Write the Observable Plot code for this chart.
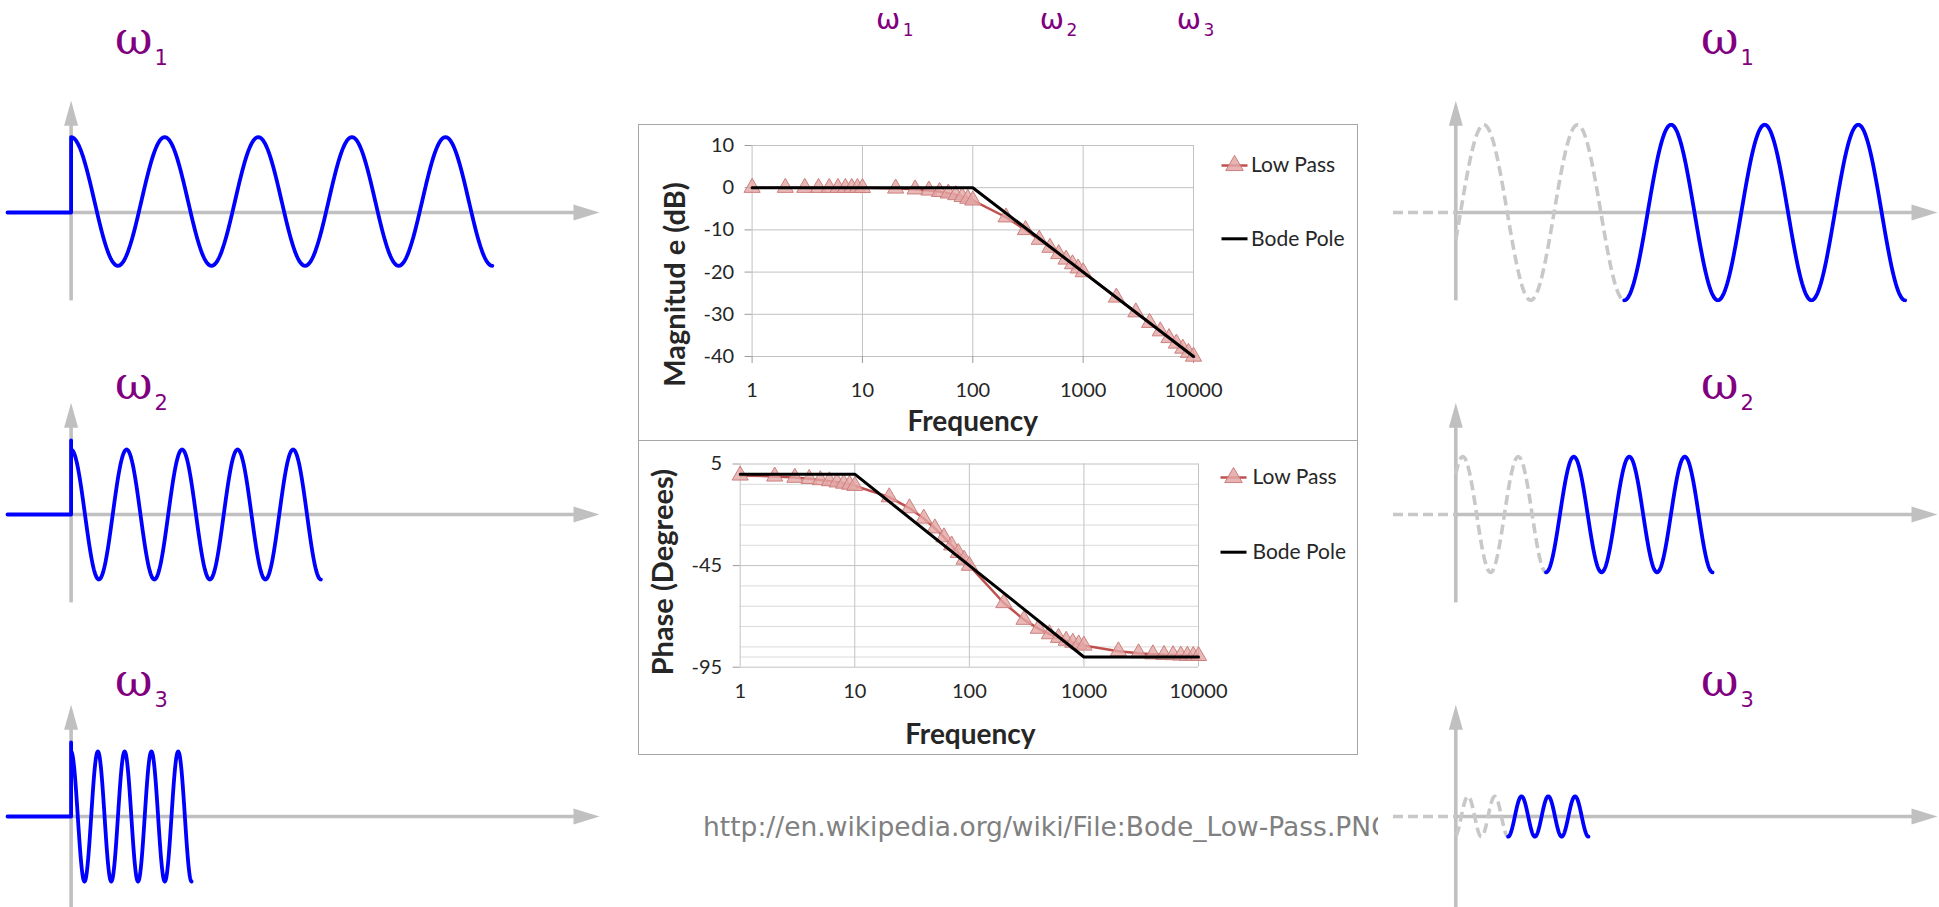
<!DOCTYPE html>
<html>
<head>
<meta charset="utf-8">
<script src="https://cdn.jsdelivr.net/npm/d3@7"></script>
<script src="https://cdn.jsdelivr.net/npm/@observablehq/plot@0.6"></script>
<style>
  html, body { margin: 0; padding: 0; background: #fff; }
  #root { position: relative; width: 1939px; height: 907px; overflow: hidden; background: #fff; }
  #root > * { position: absolute; }
  .box { border: 1.5px solid #a6a6a6; box-sizing: border-box; pointer-events: none; }
  #caption { font-family: "DejaVu Sans", sans-serif; font-size: 26.5px; color: #808080; white-space: nowrap; overflow: hidden; line-height: normal; }
</style>
</head>
<body>
<div id="root"></div>
<script>
// ---------------- DATA ----------------
// Bode plot (first-order low pass, corner at 100)
const frequency = [1, 2, 3, 4, 5, 6, 7, 8, 9, 10, 20, 30, 40, 50, 60, 70, 80, 90, 100,
  200, 300, 400, 500, 600, 700, 800, 900, 1000, 2000, 3000, 4000, 5000, 6000, 7000, 8000, 9000, 10000];
const lowPassMagnitude = [0, 0, 0, -0.01, -0.01, -0.02, -0.02, -0.03, -0.04, -0.04, -0.17, -0.37, -0.64, -0.97, -1.34, -1.73, -2.15, -2.58, -3.0,
  -7.0, -10.0, -12.3, -14.2, -15.7, -17.0, -18.1, -19.1, -20.0, -26.0, -29.5, -32.0, -34.0, -35.6, -36.9, -38.1, -39.1, -40.0];
const lowPassPhase = [-0.6, -1.1, -1.7, -2.3, -2.9, -3.4, -4.0, -4.6, -5.1, -5.7, -11.3, -16.7, -21.8, -26.6, -31.0, -35.0, -38.7, -42.0, -45.0,
  -63.4, -71.6, -76.0, -78.7, -80.5, -81.9, -82.9, -83.7, -84.3, -87.1, -88.1, -88.6, -88.9, -89.0, -89.2, -89.3, -89.4, -89.4];
const bodePoleMagFreq = [1, 100, 10000];
const bodePoleMagnitude = [0, 0, -40];
const bodePolePhaseFreq = [1, 10, 1000, 10000];
const bodePolePhase = [0, 0, -90, -90];
const frequencyTicks = [1, 10, 100, 1000, 10000];
const magnitudeTicks = [10, 0, -10, -20, -30, -40];
const phaseTicks = [5, -45, -95];
const phaseMinorGrid = [-5, -15, -25, -35, -55, -65, -75, -85, -90];
const seriesNames = ["Low Pass", "Bode Pole"];
const omegaSubscripts = ["1", "2", "3"];
const omegaMarkFreq = [22, 670, 11700];
const magnitudeTitle = "Magnitud e (dB)";
const phaseTitle = "Phase (Degrees)";
const frequencyTitle = "Frequency";
const sourceCaption = "http://en.wikipedia.org/wiki/File:Bode_Low-Pass.PNG";

// Test signals: time in units of the ω1 period, amplitude in units of the input amplitude
const inputPeriod = [1, 0.593, 0.286];
const inputAmplitude = [0.99, 1, 1];
const inputOffset = [0.17, 0, 0];
const inputCycles = [4.5, 4.5, 4.5];
const stepHeight = [1.15, 1.14, 1.14];
const outputAmplitude = [1.35, 0.89, 0.31];
const outputLagCycles = [0.30, 0.126, 0.455];
const outputSettledFrom = [1.5, 1.5, 1.5];   // cycles after first output peak
const outputEndCycles = [4.5, 4.5, 4.5];

// ---------------- STYLE / LAYOUT ----------------
const GRID = "#c2c2c2", GRID_MINOR = "#dadada", TICK = "#9a9a9a", INK = "#262626";
const RED = "#c0504d", PINK = "#e3a7a6", PINK_EDGE = "#cc7f7d";
const PURPLE = "#800080", BLUE = "#0000ff", AXIS_GRAY = "#c0c0c0", DASH_GRAY = "#c8c8c8";
const PX_T = 93.6, PX_A = 65;          // pixels per time unit / amplitude unit
const rowAxisY = [211.7, 514, 815.7];  // page y of each time axis
const labelLift = [2.44, 1.78, 1.86];  // ω label baseline above axis (amplitude units)
const vAxisBottom = [-1.36, -1.36, -1.55];
const V_TIP = 1.72;

const root = document.getElementById("root");
function place(node, left, top) {
  node.style.left = left + "px";
  node.style.top = top + "px";
  root.appendChild(node);
  return node;
}

const lineSwatch = (half) => ({draw(ctx) { ctx.moveTo(-half, 0); ctx.lineTo(half, 0); }});
const arrowRight = {draw(ctx) { ctx.moveTo(0, 0); ctx.lineTo(-26, -8); ctx.lineTo(-26, 8); ctx.closePath(); }};
const arrowUp = {draw(ctx) { ctx.moveTo(0, 0); ctx.lineTo(-7, 25); ctx.lineTo(7, 25); ctx.closePath(); }};

function legendMarks(dxMarker, dxText, dyLow, dyBode) {
  return [
    Plot.dot([0], {frameAnchor: "top-right", dx: dxMarker, dy: dyLow, symbol: lineSwatch(13), r: 1, fill: "none", stroke: RED, strokeWidth: 2.5}),
    Plot.dot([0], {frameAnchor: "top-right", dx: dxMarker, dy: dyLow, symbol: "triangle", r: 6.5, fill: PINK, fillOpacity: 0.85, stroke: PINK_EDGE, strokeWidth: 1}),
    Plot.dot([0], {frameAnchor: "top-right", dx: dxMarker, dy: dyBode, symbol: lineSwatch(13), r: 1, fill: "none", stroke: "#000", strokeWidth: 3}),
    Plot.text([seriesNames[0]], {frameAnchor: "top-right", dx: dxText, dy: dyLow, text: d => d, textAnchor: "start", lineAnchor: "middle", fontSize: 21, fill: INK}),
    Plot.text([seriesNames[1]], {frameAnchor: "top-right", dx: dxText, dy: dyBode, text: d => d, textAnchor: "start", lineAnchor: "middle", fontSize: 21, fill: INK})
  ];
}

const bodeStyle = {background: "transparent", fontFamily: "Lato, 'Open Sans', sans-serif", fontSize: "20px", color: INK};
const titleFont = {fontWeight: "bold", fill: INK, textAnchor: "middle", lineAnchor: "middle"};

// ---------------- MAGNITUDE PLOT ----------------
const magData = frequency.map((f, i) => ({f, v: lowPassMagnitude[i]}));
const magBode = bodePoleMagFreq.map((f, i) => ({f, v: bodePoleMagnitude[i]}));
const omegaTop = omegaMarkFreq.map((f, i) => ({f, s: omegaSubscripts[i]}));

const magPlot = Plot.plot({
  width: 720, height: 440,
  marginTop: 145, marginBottom: 84, marginLeft: 113.6, marginRight: 165,
  x: {type: "log", domain: [1, 10000]},
  y: {domain: [-40, 10]},
  style: bodeStyle,
  marks: [
    Plot.gridY({ticks: magnitudeTicks, stroke: GRID, strokeOpacity: 1}),
    Plot.gridX({ticks: frequencyTicks, stroke: GRID, strokeOpacity: 1}),
    Plot.axisY({ticks: magnitudeTicks, tickSize: 7, tickPadding: 11, tickFormat: d => String(d), label: null, stroke: TICK, fill: INK, fontSize: 20}),
    Plot.axisX({ticks: frequencyTicks, tickSize: 7, tickPadding: 19, tickFormat: d => String(d), label: null, stroke: TICK, fill: INK, fontSize: 20}),
    Plot.line(magData, {x: "f", y: "v", stroke: RED, strokeWidth: 2.5}),
    Plot.dot(magData, {x: "f", y: "v", symbol: "triangle", r: 6, fill: PINK, fillOpacity: 0.8, stroke: PINK_EDGE, strokeWidth: 1}),
    Plot.line(magBode, {x: "f", y: "v", stroke: "#000", strokeWidth: 3}),
    Plot.text([frequencyTitle], {frameAnchor: "bottom", dy: 65.7, text: d => d, fontSize: 28, ...titleFont}),
    Plot.text([magnitudeTitle], {frameAnchor: "left", dx: -76.6, dy: 33.5, rotate: -90, text: d => d, fontSize: 29, ...titleFont}),
    ...legendMarks(41, 57.6, 20, 93.3),
    Plot.text(omegaTop, {x: "f", frameAnchor: "top", dy: -116.5, text: () => "ω", textAnchor: "end", lineAnchor: "bottom", fontFamily: "DejaVu Sans", fontSize: 29, fill: PURPLE}),
    Plot.text(omegaTop, {x: "f", frameAnchor: "top", dx: 2.5, dy: -109.8, text: "s", textAnchor: "start", lineAnchor: "bottom", fontFamily: "DejaVu Sans", fontSize: 17, fill: PURPLE})
  ]
});
place(magPlot, 638, 0);

// ---------------- PHASE PLOT ----------------
const phData = frequency.map((f, i) => ({f, v: lowPassPhase[i]}));
const phBode = bodePolePhaseFreq.map((f, i) => ({f, v: bodePolePhase[i]}));
const phasePlot = Plot.plot({
  width: 720, height: 314,
  marginTop: 23.5, marginBottom: 87.3, marginLeft: 101.7, marginRight: 160,
  x: {type: "log", domain: [1, 10000]},
  y: {domain: [-95, 5]},
  style: bodeStyle,
  marks: [
    Plot.gridY({ticks: phaseMinorGrid, stroke: GRID_MINOR, strokeOpacity: 1}),
    Plot.gridY({ticks: phaseTicks, stroke: GRID, strokeOpacity: 1}),
    Plot.gridX({ticks: frequencyTicks, stroke: GRID, strokeOpacity: 1}),
    Plot.axisY({ticks: phaseTicks, tickSize: 7, tickPadding: 11, tickFormat: d => String(d), label: null, stroke: TICK, fill: INK, fontSize: 20}),
    Plot.axisX({ticks: frequencyTicks, tickSize: 0, tickPadding: 16.5, tickFormat: d => String(d), label: null, stroke: TICK, fill: INK, fontSize: 20}),
    Plot.line(phData, {x: "f", y: "v", stroke: RED, strokeWidth: 2.5}),
    Plot.dot(phData, {x: "f", y: "v", symbol: "triangle", r: 6, fill: PINK, fillOpacity: 0.8, stroke: PINK_EDGE, strokeWidth: 1}),
    Plot.line(phBode, {x: "f", y: "v", stroke: "#000", strokeWidth: 3}),
    Plot.text([frequencyTitle], {frameAnchor: "bottom", dx: 1, dy: 68.3, text: d => d, fontSize: 28, ...titleFont}),
    Plot.text([phaseTitle], {frameAnchor: "left", dx: -76.7, dy: 6.6, rotate: -90, text: d => d, fontSize: 29, ...titleFont}),
    ...legendMarks(35, 54, 13.5, 88.2)
  ]
});
place(phasePlot, 638, 440);

// boxes around the two charts
const b1 = document.createElement("div"); b1.className = "box"; b1.style.width = "720px"; b1.style.height = "317px"; place(b1, 638, 124);
const b2 = document.createElement("div"); b2.className = "box"; b2.style.width = "720px"; b2.style.height = "315px"; place(b2, 638, 439.5);

// caption
const cap = document.createElement("div");
cap.id = "caption"; cap.textContent = sourceCaption; cap.style.width = "675px";
place(cap, 703, 810.5);

// ---------------- SIGNAL PANELS ----------------
function cosSamples(t0, t1, period, amp, offset, peakT) {
  const n = Math.max(2, Math.ceil((t1 - t0) / period * 90));
  return d3.range(n + 1).map(i => {
    const t = t0 + (t1 - t0) * i / n;
    return {t, v: offset + amp * Math.cos(2 * Math.PI * (t - peakT) / period)};
  });
}

function panel(side, row) {
  const geo = side === "left"
    ? {left: 0, width: 610, axisX: 70.6, tip: 599, pre: 7, labelEnd: 152}
    : {left: 1380, width: 559, axisX: 1455.3, tip: 1937, pre: 1392.5, labelEnd: 1738};
  const height = 300, axisFromTop = 200;
  const top = rowAxisY[row] - axisFromTop;
  const tOf = px => (px - geo.axisX) / PX_T;
  const hTip = tOf(geo.tip), tPre = tOf(geo.pre);
  const marks = [
    Plot.ruleY([0], {x1: () => 0, x2: () => hTip - 14 / PX_T, stroke: AXIS_GRAY, strokeWidth: 3.6}),
    Plot.dot([{t: hTip, v: 0}], {x: "t", y: "v", symbol: arrowRight, r: 1, fill: AXIS_GRAY, stroke: "none"}),
    Plot.ruleX([0], {y1: () => vAxisBottom[row], y2: () => V_TIP - 14 / PX_A, stroke: AXIS_GRAY, strokeWidth: 3.6}),
    Plot.dot([{t: 0, v: V_TIP}], {x: "t", y: "v", symbol: arrowUp, r: 1, fill: AXIS_GRAY, stroke: "none"})
  ];
  const P = inputPeriod[row];
  if (side === "left") {
    const pts = [{t: tPre, v: 0}, {t: 0, v: 0}, {t: 0, v: stepHeight[row]}]
      .concat(cosSamples(0, inputCycles[row] * P, P, inputAmplitude[row], inputOffset[row], 0));
    marks.push(Plot.line(pts, {x: "t", y: "v", stroke: BLUE, strokeWidth: 3.8, strokeLinejoin: "round"}));
  } else {
    const tp = outputLagCycles[row] * P;
    const tSettle = tp + outputSettledFrom[row] * P;
    const tEnd = tp + outputEndCycles[row] * P;
    const amp = outputAmplitude[row];
    marks.push(
      Plot.line([{t: tPre, v: 0}, {t: 0, v: 0}], {x: "t", y: "v", stroke: DASH_GRAY, strokeWidth: 3.6, strokeDasharray: "10,5", strokeLinecap: "butt"}),
      Plot.line(cosSamples(0, tSettle, P, amp, 0, tp), {x: "t", y: "v", stroke: DASH_GRAY, strokeWidth: 3.6, strokeDasharray: "10,5", strokeLinecap: "butt"}),
      Plot.line(cosSamples(tSettle, tEnd, P, amp, 0, tp), {x: "t", y: "v", stroke: BLUE, strokeWidth: 3.8, strokeLinejoin: "round"})
    );
  }
  const lab = [{t: tOf(geo.labelEnd), v: labelLift[row], s: omegaSubscripts[row]}];
  marks.push(
    Plot.text(lab, {x: "t", y: "v", text: () => "ω", textAnchor: "end", lineAnchor: "bottom", fontFamily: "DejaVu Serif", fontSize: 46, fill: PURPLE}),
    Plot.text(lab, {x: "t", y: "v", text: "s", dx: 2, dy: 11, textAnchor: "start", lineAnchor: "bottom", fontFamily: "DejaVu Sans", fontSize: 21, fill: PURPLE})
  );
  const p = Plot.plot({
    width: geo.width, height,
    margin: 0,
    x: {domain: [tOf(geo.left), tOf(geo.left + geo.width)], axis: null},
    y: {domain: [-(height - axisFromTop) / PX_A, axisFromTop / PX_A], axis: null},
    style: {background: "transparent"},
    marks
  });
  place(p, geo.left, top);
}

for (let r = 0; r < 3; r++) { panel("left", r); panel("right", r); }
</script>
</body>
</html>
